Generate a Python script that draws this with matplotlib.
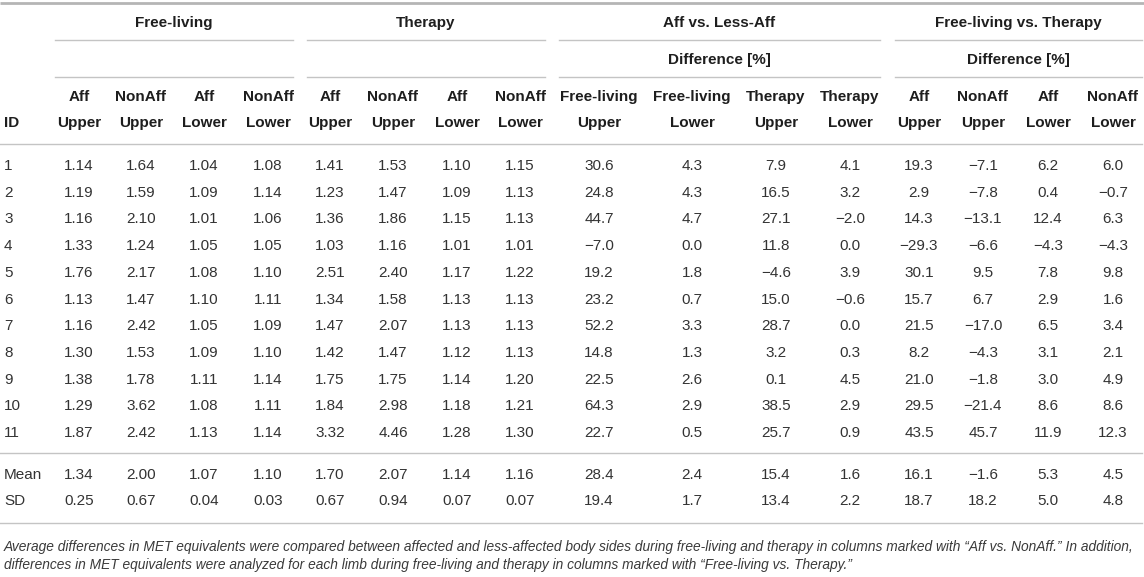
import matplotlib
matplotlib.use("Agg")
import matplotlib.pyplot as plt
from matplotlib import font_manager

# ---------------- data ----------------
ids = ["1", "2", "3", "4", "5", "6", "7", "8", "9", "10", "11"]

free_aff_upper = [1.14, 1.19, 1.16, 1.33, 1.76, 1.13, 1.16, 1.30, 1.38, 1.29, 1.87]
free_nonaff_upper = [1.64, 1.59, 2.10, 1.24, 2.17, 1.47, 2.42, 1.53, 1.78, 3.62, 2.42]
free_aff_lower = [1.04, 1.09, 1.01, 1.05, 1.08, 1.10, 1.05, 1.09, 1.11, 1.08, 1.13]
free_nonaff_lower = [1.08, 1.14, 1.06, 1.05, 1.10, 1.11, 1.09, 1.10, 1.14, 1.11, 1.14]
ther_aff_upper = [1.41, 1.23, 1.36, 1.03, 2.51, 1.34, 1.47, 1.42, 1.75, 1.84, 3.32]
ther_nonaff_upper = [1.53, 1.47, 1.86, 1.16, 2.40, 1.58, 2.07, 1.47, 1.75, 2.98, 4.46]
ther_aff_lower = [1.10, 1.09, 1.15, 1.01, 1.17, 1.13, 1.13, 1.12, 1.14, 1.18, 1.28]
ther_nonaff_lower = [1.15, 1.13, 1.13, 1.01, 1.22, 1.13, 1.13, 1.13, 1.20, 1.21, 1.30]
diff_free_upper = [30.6, 24.8, 44.7, -7.0, 19.2, 23.2, 52.2, 14.8, 22.5, 64.3, 22.7]
diff_free_lower = [4.3, 4.3, 4.7, 0.0, 1.8, 0.7, 3.3, 1.3, 2.6, 2.9, 0.5]
diff_ther_upper = [7.9, 16.5, 27.1, 11.8, -4.6, 15.0, 28.7, 3.2, 0.1, 38.5, 25.7]
diff_ther_lower = [4.1, 3.2, -2.0, 0.0, 3.9, -0.6, 0.0, 0.3, 4.5, 2.9, 0.9]
fvt_aff_upper = [19.3, 2.9, 14.3, -29.3, 30.1, 15.7, 21.5, 8.2, 21.0, 29.5, 43.5]
fvt_nonaff_upper = [-7.1, -7.8, -13.1, -6.6, 9.5, 6.7, -17.0, -4.3, -1.8, -21.4, 45.7]
fvt_aff_lower = [6.2, 0.4, 12.4, -4.3, 7.8, 2.9, 6.5, 3.1, 3.0, 8.6, 11.9]
fvt_nonaff_lower = [6.0, -0.7, 6.3, -4.3, 9.8, 1.6, 3.4, 2.1, 4.9, 8.6, 12.3]

mean_row = [1.34, 2.00, 1.07, 1.10, 1.70, 2.07, 1.14, 1.16,
            28.4, 2.4, 15.4, 1.6, 16.1, -1.6, 5.3, 4.5]
sd_row = [0.25, 0.67, 0.04, 0.03, 0.67, 0.94, 0.07, 0.07,
          19.4, 1.7, 13.4, 2.2, 18.7, 18.2, 5.0, 4.8]
summary_labels = ["Mean", "SD"]

group_titles = ["Free-living", "Therapy", "Aff vs. Less-Aff", "Free-living vs. Therapy"]
group_subtitles = ["", "", "Difference [%]", "Difference [%]"]
col_head_1 = ["Aff", "NonAff", "Aff", "NonAff", "Aff", "NonAff", "Aff", "NonAff",
              "Free-living", "Free-living", "Therapy", "Therapy",
              "Aff", "NonAff", "Aff", "NonAff"]
col_head_2 = ["Upper", "Upper", "Lower", "Lower", "Upper", "Upper", "Lower", "Lower",
              "Upper", "Lower", "Upper", "Lower", "Upper", "Upper", "Lower", "Lower"]
id_label = "ID"

footnote = [
    "Average differences in MET equivalents were compared between affected and less-affected body sides "
    "during free-living and therapy in columns marked with \u201cAff vs. NonAff.\u201d In addition,",
    "differences in MET equivalents were analyzed for each limb during free-living and therapy in columns "
    "marked with \u201cFree-living vs. Therapy.\u201d",
]

columns = [free_aff_upper, free_nonaff_upper, free_aff_lower, free_nonaff_lower,
           ther_aff_upper, ther_nonaff_upper, ther_aff_lower, ther_nonaff_lower,
           diff_free_upper, diff_free_lower, diff_ther_upper, diff_ther_lower,
           fvt_aff_upper, fvt_nonaff_upper, fvt_aff_lower, fvt_nonaff_lower]
decimals = [2] * 8 + [1] * 8

# ---------------- layout ----------------
W, H = 1144, 577
col_x = [79, 141, 204, 268, 330, 393, 457, 520, 599, 692, 776, 850, 919, 983, 1048, 1113]
group_spans = [(55, 293), (307, 545), (559, 880), (895, 1142)]
row_y0, row_dy = 166, 26.7
summary_y = [475, 501]

available = {f.name for f in font_manager.fontManager.ttflist}
main_font = "Liberation Sans" if "Liberation Sans" in available else "DejaVu Sans"
note_font = "Liberation Sans Narrow" if "Liberation Sans Narrow" in available else main_font
plt.rcParams["font.family"] = [main_font, "DejaVu Sans"]

data_color = "#333333"
head_color = "#1e1e1e"
rule_color = "#c4c4c4"
fs = 11


def fmt(v, d):
    s = f"{abs(v):.{d}f}"
    return ("\u2212" + s) if v < 0 else s


fig = plt.figure(figsize=(W / 100, H / 100), dpi=100)
ax = fig.add_axes([0, 0, 1, 1])
ax.set_xlim(0, W)
ax.set_ylim(H, 0)
ax.axis("off")

# rules
ax.plot([0, W], [3, 3], color="#b5b5b5", lw=2.0, solid_capstyle="butt")
for (x0, x1) in group_spans:
    ax.plot([x0, x1], [40, 40], color=rule_color, lw=1.0)
    ax.plot([x0, x1], [77, 77], color=rule_color, lw=1.0)
for yy in (144, 453, 523):
    ax.plot([0, 1142], [yy, yy], color=rule_color, lw=1.0)

# group headers
for (x0, x1), t, st in zip(group_spans, group_titles, group_subtitles):
    xc = (x0 + x1) / 2
    ax.text(xc, 23, t, ha="center", va="center", fontsize=fs, fontweight="bold", color=head_color)
    if st:
        ax.text(xc, 60, st, ha="center", va="center", fontsize=fs, fontweight="bold", color=head_color)

# column headers
ax.text(4, 123, id_label, ha="left", va="center", fontsize=fs, fontweight="bold", color=head_color)
for x, h1, h2 in zip(col_x, col_head_1, col_head_2):
    ax.text(x, 97, h1, ha="center", va="center", fontsize=fs, fontweight="bold", color=head_color)
    ax.text(x, 123, h2, ha="center", va="center", fontsize=fs, fontweight="bold", color=head_color)

# body
for i, rid in enumerate(ids):
    y = row_y0 + i * row_dy
    ax.text(4, y, rid, ha="left", va="center", fontsize=fs, color=data_color)
    for x, col, d in zip(col_x, columns, decimals):
        ax.text(x, y, fmt(col[i], d), ha="center", va="center", fontsize=fs, color=data_color)

for lab, vals, y in zip(summary_labels, [mean_row, sd_row], summary_y):
    ax.text(4, y, lab, ha="left", va="center", fontsize=fs, color=data_color)
    for x, v, d in zip(col_x, vals, decimals):
        ax.text(x, y, fmt(v, d), ha="center", va="center", fontsize=fs, color=data_color)

# footnote, sized so the first line spans the table width
renderer = fig.canvas.get_renderer()
probe = ax.text(4, 547, footnote[0], ha="left", va="center", fontsize=10,
                style="italic", family=[note_font, "DejaVu Sans"], color="#3a3a3a")
wpx = probe.get_window_extent(renderer=renderer).width
note_fs = 10 * (1136 / wpx)
probe.remove()
for line, y in zip(footnote, [547, 565]):
    ax.text(4, y, line, ha="left", va="center", fontsize=note_fs,
            style="italic", family=[note_font, "DejaVu Sans"], color="#3a3a3a")

fig.savefig("out.png", dpi=100)
